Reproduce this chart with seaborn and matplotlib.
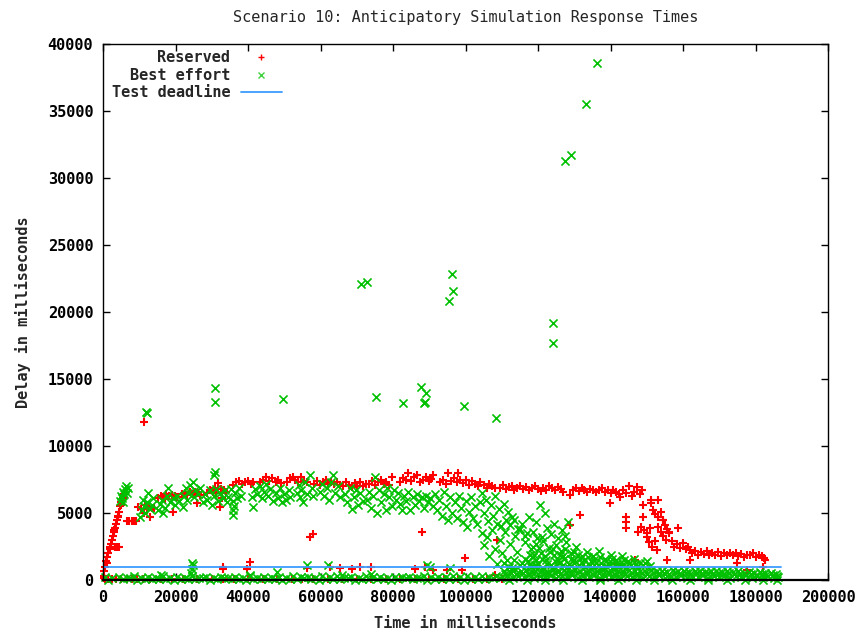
import matplotlib
matplotlib.use("Agg")
import matplotlib.pyplot as plt
from matplotlib.lines import Line2D
import seaborn as sns
import pandas as pd

# ---------------- data (x in seconds -> converted to ms, y in ms) ----------------
reserved_ramp = [(0.3,700),(0.6,1000),(0.9,1400),(1.2,1700),(1.5,2000),(1.8,2300),(2.1,2700),
    (2.4,3000),(2.7,3300),(3.0,3600),(3.3,3900),(3.6,4200),(3.9,4500),(4.2,4800),(4.5,5100),
    (4.8,5500),(5.1,5800),(5.4,6100),(5.7,6400),(1.0,1300),(2.0,2500),(3.1,3700),(4.1,4700),
    (5.0,5600),(0.2,150),(0.4,300),(3.2,2500),(3.8,2450),(4.4,2500),
    (6.5,4400),(7.2,4400),(7.9,4400),(8.6,4400),(9.2,4400),(11.3,11790)]
reserved_band_early = [(9.6,5470),(10.5,5300),(11.2,5000),(12.2,5300),(12.8,5450),(13.6,5400),
    (14.2,5350),(13.0,4720),(11.5,5600),
    (15.2,6100),(16.0,6300),(16.8,6200),(17.5,6400),(18.3,6300),(19.0,6350),(19.8,6250),
    (20.5,6200),(19.2,5100),(17.0,6050),
    (21.7,6400),(22.5,6500),(23.3,6350),(24.0,6550),(24.8,6450),(25.5,6600),(26.3,6500),
    (26.8,6350),(25.8,5720),
    (28.6,6500),(29.5,6700),(30.3,6600),(31.0,6900),(31.8,7220),(32.5,6800),(33.3,6700),
    (34.0,6600),(32.3,5470),(32.7,6100),(31.2,6500),
    (35.9,7100),(36.7,7300),(37.5,7400),(38.3,7200),(39.1,7300),(39.9,7400),(40.7,7200),(41.4,7350),
    (43.3,7300),(44.2,7500),(45.0,7650),(45.9,7400),(46.7,7600),(47.6,7300),(48.4,7500),(49.0,7250),
    (50.7,7300),(51.5,7600),(52.3,7700),(53.1,7450),(53.9,7300),(54.7,7650),(55.5,7400),(56.2,7300),
    (57.1,3230),(58.0,3430)]
reserved_band_mid = [(58.2,7200),(59.0,7400),(59.8,7100),(60.6,7300),(61.4,7450),(62.2,7200),
    (63.0,7350),(63.8,7150),(64.6,7300),(65.4,7100),
    (66.2,7000),(67.0,7300),(67.8,7100),(68.6,6950),(69.4,7250),(70.2,7050),(71.0,7300),
    (71.8,7000),(72.6,7150),
    (73.4,7200),(74.2,7400),(75.0,7100),(75.8,7300),(76.6,7450),(77.4,7200),(78.2,7300),
    (79.0,7100),(79.6,7710),
    (82.0,7300),(82.8,7600),(83.6,7500),(84.2,7960),(85.0,7400),(85.8,7650),(86.6,7800),
    (87.4,7350),(88.2,7500),(89.0,7700),(89.8,7400),(90.6,7550),(91.0,7840),
    (93.0,7300),(93.8,7500),(94.6,7200),(95.2,7960),(96.0,7400),(96.8,7600),(97.6,7300),
    (97.9,7960),(98.6,7450),(99.4,7250),(100.2,7500),(101.0,7100),(101.8,7400),(102.6,7200),
    (103.4,7000),(104.0,7350)]
reserved_band_late = [(105.0,7100),(105.8,6900),(106.6,7200),(107.4,7000),(108.2,6850),(109.5,6900),
    (110.3,7100),(111.1,6800),(111.9,6950),(112.7,7000),(113.5,6750),(114.3,6900),(115.1,7050),
    (115.9,6800),(116.7,6950),(117.5,6700),(118.3,6850),(119.1,7000),(119.9,6800),(120.7,6650),
    (121.5,6900),(122.3,6750),(123.1,7000),(123.9,6850),(124.7,6700),(125.5,6950),(126.3,6800),
    (126.9,6600),(128.8,6340),
    (129.6,6700),(130.4,6900),(131.2,6650),(132.0,6850),(132.8,6750),(133.6,6600),(134.4,6800),
    (135.2,6700),(136.0,6550),(136.8,6750),(137.6,6900),(138.4,6600),(139.2,6750),(139.9,5720),
    (140.0,6500),(140.8,6700),(141.6,6600),(142.4,6450),(142.6,6220),
    (143.4,6700),(144.2,6500),(145.0,6980),(145.8,6300),(146.4,6600),(147.2,6960),(148.0,6400),
    (148.8,6700)]
reserved_drop = [(149.0,5600),(151.3,5720),(151.3,5970),(153.2,5970),(151.6,5200),(152.3,4900),
    (153.0,4700),(153.8,5100),(154.6,4500),(144.4,4720),(144.4,4300),(144.4,3860),(149.0,4720),
    (154.5,4480),(155.0,4100),(155.5,3800),(156.2,3600),(147.6,3600),(148.4,3980),(149.2,3700),
    (150.1,3500),(150.9,3850),(150.0,3230),(150.7,2800),(151.5,2500),(152.3,2900),(152.8,2240),
    (153.0,3980),(153.8,3600),(154.6,3300),(155.4,3000),(156.0,3500),(157.0,2900),(157.6,2500),
    (158.4,2700),(158.7,3860),(159.2,2400),(160.0,2740),(160.8,2300),(161.5,2500),(161.9,2240),
    (162.5,2000),(163.3,2200),(164.1,1900),(164.9,2100),(165.7,1950),(166.5,2150),(167.3,1850),
    (168.1,2050),(168.9,1900),(169.7,2100),(170.5,1800),(171.3,2000),(172.1,1900),(172.9,2050),
    (173.7,1850),(174.5,2000),(175.3,1800),(176.1,1950),(176.9,1750),(177.7,1900),(178.5,1850),
    (179.3,2000),(180.1,1750),(180.9,1900),(181.7,1800),(182.3,1650),(182.6,1490)]
reserved_low = [(155.5,1490),(161.9,1490),(174.8,1240),(182.1,990),(141.2,1240),(146.8,1490),
    (131.6,4850),(128.8,4100),(108.6,2990),(87.9,3610),(99.9,1620),(40.6,1370),(39.6,800),
    (33.0,990),(33.0,800),(56.2,870),(62.6,950),(65.4,870),(68.6,800),(70.9,950),(73.8,950),
    (86.1,800),(88.8,990),(91.1,750),(94.8,750),(98.9,750),(177.6,750),(108.0,370),
    (0.5,80),(1.5,60),(2.5,90),(3.5,50),(5.0,70),(6.5,60),(8.0,90),(9.5,50),(11.0,80),(13.0,60),
    (16.0,70),(19.0,90),(22.0,50),(26.0,80),(30.0,60),(33.0,90),(36.0,70),(40.0,50),(44.0,80),
    (48.0,60),(52.0,90),(55.0,70),(58.0,50),(62.0,80),(66.0,60),(70.0,90),(74.0,70),(78.0,50),
    (82.0,80),(86.0,60),(90.0,90),(94.0,70),(98.0,50),(102.0,80),(106.0,60),(110.0,70)]

best_outliers = [(136.3,38580),(133.2,35520),(129.1,31720),(127.4,31270),(124.0,19180),(124.0,17660),
    (96.4,22860),(96.6,21570),(95.5,20840),(71.2,22070),(72.7,22260),(75.4,13680),(82.7,13190),
    (87.7,14380),(89.0,13980),(88.6,13190),(88.7,13250),(99.7,12990),(108.4,12070),(30.9,14330),
    (30.8,13280),(49.7,13500),(11.9,12540),(12.0,12480),(30.9,8080),(30.7,7800)]
best_band_early = [(4.7,5900),(5.0,6300),(5.3,6100),(5.6,6600),(5.9,6400),(6.2,6800),(6.5,6500),
    (6.8,6900),(5.5,5850),(6.3,7050),
    (10.2,4700),(10.7,5200),(11.2,5500),(11.7,5000),(12.2,5800),(12.5,6470),(12.9,5300),
    (13.4,5600),(13.8,6100),(11.0,6000),
    (15.2,5200),(15.8,5700),(16.4,6000),(17.0,5400),(17.6,6300),(18.0,6840),(18.6,5800),
    (19.2,6100),(19.8,5600),(20.4,6300),(21.0,5900),(16.6,5000),(22.0,5470),
    (22.3,6300),(22.9,6900),(23.5,6500),(24.1,7100),(24.9,7340),(25.5,6700),(26.1,6400),
    (26.7,6900),(23.2,6000),(25.0,6200),
    (27.6,5800),(28.2,6400),(28.8,6000),(29.4,6700),(30.0,5600),(30.6,6300),(31.2,6800),
    (31.8,5900),(32.4,6500),(33.0,6100),(33.6,6700),(34.2,5800),
    (34.6,6200),(35.2,6800),(35.8,5900),(36.4,6500),(37.0,6100),(37.6,6900),(38.2,6300),
    (35.9,4850),(35.9,5220),(36.2,5500),
    (41.0,6200),(41.5,5470),(42.0,6800),(42.6,6400),(43.2,7000),(43.8,6100),(44.4,6600),
    (45.0,7200),(45.6,6300),(46.0,6800),
    (47.0,5900),(47.6,6500),(48.2,6100),(48.8,6900),(49.4,5800),(50.0,6400),(50.6,6000),
    (51.2,6700),(51.6,6200)]
best_band_mid = [(53.4,6500),(54.0,7100),(54.6,6700),(55.3,5840),(55.8,7300),(56.4,6400),(57.1,7840),
    (57.6,6900),(58.0,6300),(54.3,6200),
    (59.9,6600),(60.5,7200),(61.1,6300),(61.7,6900),(62.3,5970),(62.9,7300),(63.5,7840),
    (64.1,6500),(64.8,7000),(65.4,6200),
    (66.8,6400),(67.4,5800),(68.0,6900),(68.6,5300),(69.2,6200),(69.8,6700),(70.4,5600),
    (71.0,6500),(71.7,5900),
    (72.7,6000),(73.3,6600),(73.9,5400),(74.5,6300),(75.0,7710),(75.6,5000),(76.2,6700),
    (76.8,5800),(77.4,6400),(78.0,5200),(78.3,6900),
    (79.0,6200),(79.6,5500),(80.2,6700),(80.8,6000),(81.4,6500),(82.0,5700),(82.4,5220),
    (83.0,6300),(83.6,5900),(84.2,6600),(84.7,5220),
    (85.5,6200),(86.1,5600),(86.7,6400),(87.3,5900),(87.9,6200),(88.5,5400),(89.1,6300),
    (89.7,5800),(90.3,6100),(91.0,5500)]
best_spread = [(91.6,6400),(92.2,5200),(92.8,6000),(93.4,4800),(94.0,6600),(94.6,5500),(95.2,4500),
    (95.8,6200),(96.4,5000),(97.0,5800),(97.6,4600),(98.2,6300),(98.8,5400),(99.4,4300),
    (100.0,5900),(100.3,3980),(100.9,5100),(101.5,6200),(102.1,4600),(102.7,5500),(103.3,4200),
    (103.9,5800),
    (104.5,6500),(105.1,5000),(105.7,6000),(106.3,4400),(106.9,5600),(107.5,4800),(108.1,6300),
    (108.7,4200),(109.3,5300),(109.9,4000),(110.5,5700),(111.1,4500),(111.7,5100),(112.3,4100),
    (112.9,4700),
    (104.5,3500),(105.2,2600),(105.9,3200),(106.6,1800),(107.3,3700),(108.0,2300),(108.7,1200),
    (109.4,3000),(110.1,2000),(110.8,3600),(111.5,1500),(112.2,2700),(112.9,900),(113.6,3300),
    (114.3,2100),(115.0,3800),(115.7,1300),(116.4,2800),(117.1,3500),(117.8,1900),(118.5,2500),
    (119.2,1100),(119.7,3100),
    (113.5,4500),(114.5,3800),(115.5,4200),(116.5,3300),(117.5,4700),(118.5,3600),(119.5,4300),
    (120.6,5600),(121.0,3200),(122.0,4980),(122.5,3900),(123.5,3400),(124.5,4200),(125.5,3100),
    (126.5,3700),(127.5,3300),(128.4,4350)]
best_dense = [(117.3,1400),(118.0,2300),(118.7,1700),(119.4,2700),(120.1,1200),(120.8,2000),
    (121.5,2900),(122.2,1500),(122.9,2400),(123.6,1100),(124.3,1900),(125.0,2600),(125.7,1300),
    (126.4,2200),(127.1,1600),(127.8,2800),(128.5,1200),(129.2,2000),(129.9,1500),(130.6,2500),
    (131.3,1100),(132.0,1800),(121.0,1600),(124.0,2300),(127.0,1100),(130.0,2100),
    (132.8,1500),(133.6,2100),(134.4,1100),(135.2,1800),(136.0,1300),(136.8,2200),(137.6,900),
    (138.4,1600),(139.2,1200),(140.0,1900),(140.8,1000),(141.6,1500),(142.4,1200),(143.2,1800),
    (144.0,900),(144.8,1400),(145.6,1100),(146.4,1600),(147.3,1000),(148.0,1300),(149.0,1100),
    (150.0,1400),(150.9,1050),
    (110.5,1300),(112.0,1000),(113.5,1500),(115.0,1100),(116.5,1600),(118.0,1000),(119.5,1500),
    (121.0,900),(122.5,1200),(124.0,1000),(125.5,1500),(127.0,1800),(128.5,900),(130.0,1300),
    (131.5,1600),(133.0,1000),(134.5,1400),(136.0,1000),(137.5,1300),(139.0,1000),(140.5,1300),
    (142.0,1000),(143.5,1200),
    (117.9,1200),(119.0,1900),(120.4,2400),(121.9,1800),(123.2,2100),(124.8,1400),(126.0,1900),
    (127.5,2300),(129.0,1600),(130.9,1900),(132.4,1200),(133.9,1700),(135.5,1500),(137.0,1700),
    (138.8,1400),(140.4,1600),(141.9,1300),(143.8,1500),(145.2,1300),(147.0,1200),(149.5,1250)]
best_near_deadline = [(24.3,500),(24.5,800),(24.7,1100),(24.5,1270),(56.2,1120),(62.2,1120),
    (47.9,620),(95.7,870),(90.2,990),(89.3,1120),(74.0,450),(66.0,400),(40.5,400),(16.0,350)]
best_floor_early = [(0.5,200),(2.5,150),(4.5,250),(6.5,180),(8.5,300),(10.5,150),(12.5,220),
    (14.5,160),(16.5,280),(18.5,150),(20.5,240),(22.5,170),(24.5,300),(26.5,160),(28.5,220),
    (30.5,150),(32.5,260),(34.5,180),(36.5,230),(38.5,160),(40.5,280),(42.5,170),(44.5,240),
    (46.5,150),(48.5,260),(50.5,180),(52.5,300),(54.5,200),(56.5,260),(58.5,170),(60.5,300),
    (62.5,220),(64.5,270),(66.5,170),(68.5,250),(70.5,160),(72.5,280),(74.5,200),(76.5,240),
    (78.5,170),(80.5,260),(82.5,190),(84.5,230),(86.5,170),(88.5,280),(90.5,190),(92.5,250),
    (94.5,200),(96.5,300),(98.5,220),(100.5,270),(102.5,200),(104.5,300),(106.5,240),(108.5,330),
    (1.5,0),(9.5,0),(19.5,0),(29.5,0),(39.5,0),(49.5,0),(59.5,0),(69.5,0),(79.5,0),(89.5,0),
    (99.5,0),(13.5,100),(23.5,80),(33.5,120),(43.5,90),(53.5,110),(63.5,100),(73.5,90),
    (83.5,120),(93.5,100),(103.5,90),
    (5.5,60),(7.5,120),(11.5,40),(15.5,90),(17.5,50),(21.5,110),(25.5,60),(27.5,130),(31.5,50),
    (35.5,90),(37.5,60),(41.5,110),(45.5,50),(47.5,100),(51.5,60),(55.5,120),(57.5,40),
    (61.5,100),(65.5,60),(67.5,120),(71.5,50),(75.5,110),(77.5,60),(81.5,100),(85.5,50),
    (87.5,120),(91.5,60),(95.5,110),(97.5,50),(101.5,100),(105.5,60),(107.5,120),(109.5,150)]
best_floor_late = [(110.0,200),(111.5,350),(113.0,150),(114.5,300),(116.0,200),(117.5,350),
    (119.0,150),(120.5,300),(122.0,200),(123.5,350),(125.0,150),(126.5,300),(128.0,200),
    (129.5,350),(131.0,150),(132.5,300),(134.0,200),(135.5,350),(137.0,150),(138.5,300),
    (140.0,200),(141.5,350),(143.0,150),(144.5,300),(146.0,200),(147.5,350),(149.0,150),
    (150.5,300),(152.0,200),(153.5,350),(155.0,150),(156.5,300),(158.0,200),(159.5,350),
    (161.0,150),(162.5,300),(164.0,200),(165.5,350),(167.0,150),(168.5,300),(170.0,200),
    (171.5,350),(173.0,150),(174.5,300),(176.0,200),(177.5,350),(179.0,150),(180.5,300),
    (182.0,200),(183.5,300),(185.0,150),(186.3,250),
    (110.7,700),(112.2,600),(113.7,800),(115.2,650),(116.7,750),(118.2,600),(119.7,800),
    (121.2,700),(122.7,600),(124.2,800),(125.7,650),(127.2,750),(128.7,600),(130.2,800),
    (131.7,700),(133.2,600),(134.7,800),(136.2,650),(137.7,750),(139.2,600),(140.7,800),
    (142.2,700),(143.7,600),(145.2,750),(146.7,650),(148.2,700),(149.7,600),(151.2,750),
    (152.7,650),(154.2,700),(155.7,600),(157.2,750),(158.7,650),(160.2,700),(161.7,600),
    (163.2,700),(164.7,650),(166.2,600),(167.7,700),(169.2,650),(170.7,600),(172.2,650),
    (173.7,600),(175.2,650),(176.7,550),(178.2,600),(179.7,550),(181.2,600),(182.7,550),
    (184.2,500),(185.7,450),
    (111.0,450),(112.6,500),(114.0,450),(115.8,500),(117.2,450),(118.8,500),(120.0,450),
    (121.8,500),(123.0,450),(124.8,500),(126.0,450),(127.8,500),(129.0,450),(130.8,500),
    (132.0,450),(133.8,500),(135.0,450),(136.8,500),(138.0,450),(139.8,500),(141.0,450),
    (142.8,500),(144.0,450),(145.8,500),(147.0,450),(148.8,500),(150.0,450),(151.8,500),
    (153.0,450),(154.8,500),(156.0,450),(157.8,500),(159.0,450),(160.8,500),(162.0,450),
    (163.8,500),(165.0,450),(166.8,500),(168.0,450),(169.8,500),(171.0,450),(172.8,500),
    (174.0,450),(175.8,450),(177.0,400),(178.8,450),(180.0,400),(181.8,450),(183.0,400),
    (184.8,350),(186.0,300),
    (112.0,0),(117.0,0),(122.0,0),(127.0,0),(132.0,0),(137.0,0),(142.0,0),(147.0,0),(152.0,0),
    (157.0,0),(162.0,0),(167.0,0),(172.0,0),(177.0,0),(182.0,0),(186.0,0)]

deadline_x = [0, 187000]
deadline_y = [1000, 1000]

x_ticks = [0, 20000, 40000, 60000, 80000, 100000, 120000, 140000, 160000, 180000, 200000]
y_ticks = [0, 5000, 10000, 15000, 20000, 25000, 30000, 35000, 40000]

title = "Scenario 10: Anticipatory Simulation Response Times"
x_label = "Time in milliseconds"
y_label = "Delay in milliseconds"
series_names = ["Reserved", "Best effort", "Test deadline"]

# ---------------- build frames ----------------
def frame(groups):
    pts = [p for g in groups for p in g]
    return pd.DataFrame({"time": [p[0] * 1000 for p in pts], "delay": [p[1] for p in pts]})

reserved = frame([reserved_ramp, reserved_band_early, reserved_band_mid, reserved_band_late,
                  reserved_drop, reserved_low])
best = frame([best_outliers, best_band_early, best_band_mid, best_spread, best_dense,
              best_near_deadline, best_floor_early, best_floor_late])
deadline = pd.DataFrame({"time": deadline_x, "delay": deadline_y})

# ---------------- plot ----------------
sns.set_theme(style="ticks")
plt.rcParams["font.family"] = ["DejaVu Sans Mono", "DejaVu Sans"]

RED = "#ff0000"
GREEN = "#00c000"
BLUE = "#3b9cff"

fig = plt.figure(figsize=(8.57, 6.35), dpi=100)
ax = fig.add_axes([103 / 857, 1 - 580 / 635, 725 / 857, 536 / 635])

sns.scatterplot(data=reserved, x="time", y="delay", marker="+", color=RED, s=40,
                linewidth=1.5, ax=ax, clip_on=False, legend=False, zorder=2)
sns.scatterplot(data=best, x="time", y="delay", marker="x", color=GREEN, s=34,
                linewidth=1.2, ax=ax, clip_on=False, legend=False, zorder=2.1)
sns.lineplot(data=deadline, x="time", y="delay", color=BLUE, linewidth=1.3, ax=ax,
             legend=False, zorder=2.2)

ax.set_xlim(0, 200000)
ax.set_ylim(0, 40000)
ax.set_xticks(x_ticks)
ax.set_yticks(y_ticks)
ax.set_xticklabels([str(v) for v in x_ticks])
ax.set_yticklabels([str(v) for v in y_ticks])

ax.tick_params(direction="in", length=5, width=1, top=True, right=True, bottom=True,
               left=True, labelsize=11, pad=7, colors="black")
for lab in ax.get_xticklabels() + ax.get_yticklabels():
    lab.set_fontweight("bold")
for sp in ax.spines.values():
    sp.set_visible(True)
    sp.set_color("black")
    sp.set_linewidth(1.0)
    sp.set_zorder(3)
ax.spines["bottom"].set_linewidth(1.6)

ax.set_title(title, fontsize=11, pad=16)
ax.set_xlabel(x_label, fontsize=11, fontweight="bold", labelpad=8)
ax.set_ylabel(y_label, fontsize=11, fontweight="bold", labelpad=12)

handles = [
    Line2D([], [], marker="+", color=RED, linestyle="none", markersize=5, markeredgewidth=1),
    Line2D([], [], marker="x", color="#40d040", linestyle="none", markersize=5, markeredgewidth=1),
    Line2D([], [], color=BLUE, linewidth=1.3),
]
leg = ax.legend(handles, series_names, loc="upper right", bbox_to_anchor=(0.247, 0.988),
                markerfirst=False, frameon=False, handlelength=2.7,
                handletextpad=0.7, labelspacing=0.16, borderaxespad=0, borderpad=0,
                prop={"weight": "bold", "size": 11})

fig.savefig("out.png", dpi=100)
